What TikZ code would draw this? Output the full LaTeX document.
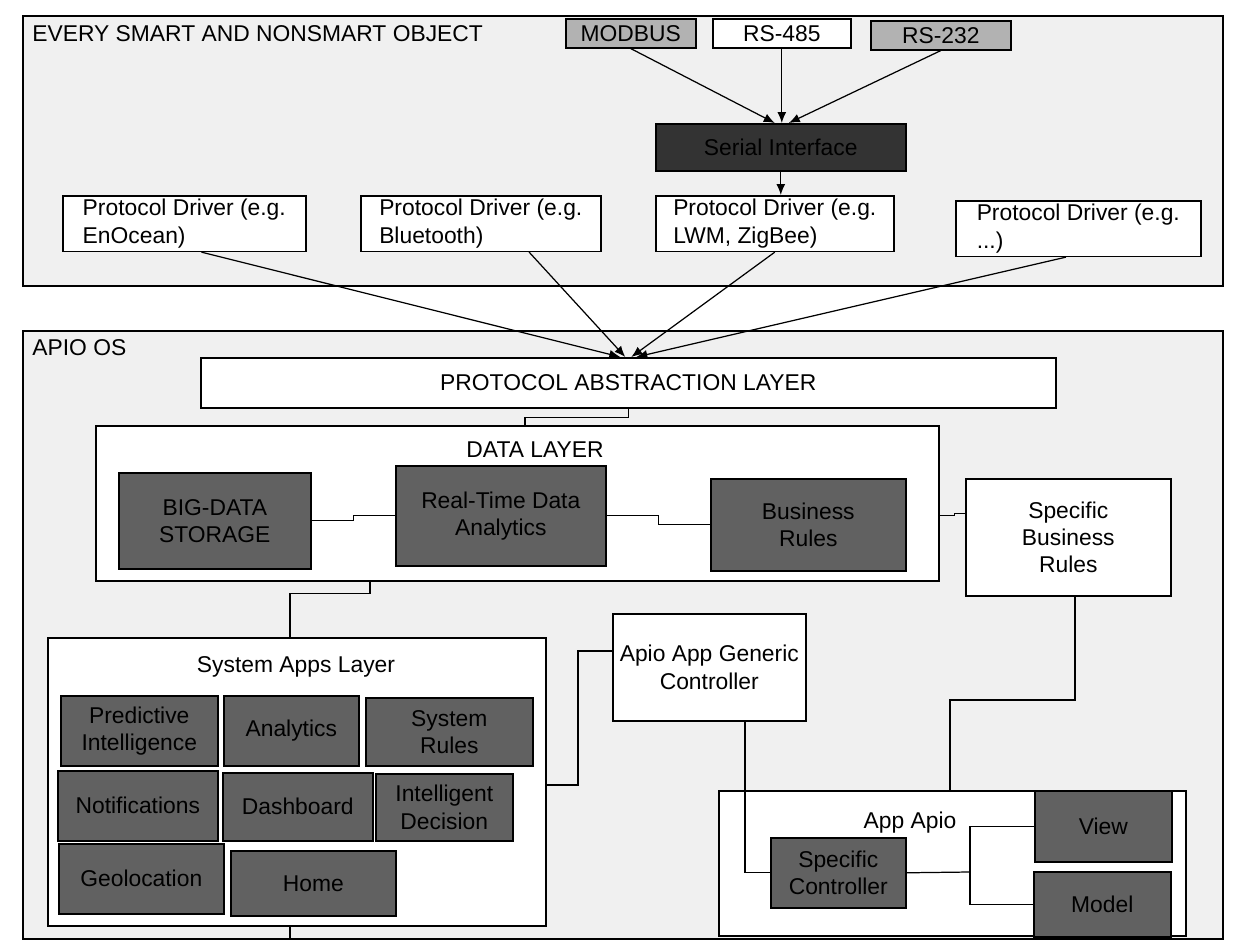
\documentclass[tikz,border=0pt]{standalone}
\usepackage{fontspec}
\setmainfont{Liberation Sans}
\usetikzlibrary{arrows.meta, calc}
\newcommand{\upx}{0.02cm}
\tikzset{
  outer/.style={draw, line width=0.9pt, fill=black!6, anchor=north west, inner sep=0pt},
  wbox/.style={draw, line width=0.9pt, fill=white, align=center, anchor=north west, inner sep=2pt},
  gbox/.style={wbox, fill=black!30},
  dbox/.style={wbox, fill=black!62},
  pbox/.style={wbox, align=left},
  ttl/.style={inner sep=0pt},
  link/.style={line width=0.7pt},
  arr/.style={line width=0.7pt, -{Latex[length=2.2mm, width=1.8mm]}},
}

\begin{document}
\begin{tikzpicture}[x=0.02cm, y=-0.02cm, font=\fontsize{13}{15.5}\selectfont]
  \useasboundingbox (0,0) rectangle (1235,943);

  % objects
  \node[outer, minimum width=1200*\upx, minimum height=270*\upx] (objs) at (22,15) {};
  \node[ttl, anchor=west] (objt) at (32,34) {EVERY SMART AND NONSMART OBJECT};
  \node[gbox, minimum width=130*\upx, minimum height=29*\upx] (modbus) at (565,18) {MODBUS};
  \node[wbox, minimum width=138*\upx, minimum height=29*\upx] (rs485) at (712,18) {RS-485};
  \node[gbox, minimum width=140*\upx, minimum height=29*\upx] (rs232) at (870,20) {RS-232};
  \node[dbox, fill=black!80, minimum width=250*\upx, minimum height=47*\upx] (ser) at (655,123) {Serial Interface};
  \node[pbox, minimum width=243*\upx, minimum height=55*\upx] (drv1) at (62,195) {Protocol Driver (e.g.\\EnOcean)};
  \node[pbox, minimum width=240*\upx, minimum height=55*\upx] (drv2) at (360,195) {Protocol Driver (e.g.\\Bluetooth)};
  \node[pbox, minimum width=238*\upx, minimum height=55*\upx] (drv3) at (655,195) {Protocol Driver (e.g.\\LWM, ZigBee)};
  \node[pbox, minimum width=245*\upx, minimum height=55*\upx] (drv4) at (955,200) {Protocol Driver (e.g.\\...)};

  \draw[arr] (modbus.south) -- ($(ser.north)+(-6,0)$);
  \draw[arr] (rs485.south) -- (rs485.south |- ser.north);
  \draw[arr] (rs232.south) -- ($(ser.north)+(8,0)$);
  \draw[arr] (ser.south) -- (ser.south |- drv3.north);

  % apio os
  \node[outer, minimum width=1200*\upx, minimum height=608*\upx] (apio) at (22,330) {};
  \node[ttl, anchor=west] (apiot) at (32,348) {APIO OS};
  \node[wbox, minimum width=855*\upx, minimum height=50*\upx] (pal) at (200,357) {PROTOCOL ABSTRACTION LAYER};

  \draw[arr] ($(drv1.south west)!.57!(drv1.south east)$) -- ($(pal.north)+(-8,0)$);
  \draw[arr] ($(drv2.south west)!.7!(drv2.south east)$) -- ($(pal.north)+(-3,0)$);
  \draw[arr] ($(drv3.south west)!.5!(drv3.south east)$) -- ($(pal.north)+(3,0)$);
  \draw[arr] ($(drv4.south west)!.45!(drv4.south east)$) -- ($(pal.north)+(8,0)$);

  \node[wbox, minimum width=843*\upx, minimum height=155*\upx] (data) at (95,425) {};
  \node[ttl] (datat) at (535,450) {DATA LAYER};
  \node[dbox, minimum width=192*\upx, minimum height=96*\upx] (big) at (118,472) {BIG-DATA\\STORAGE};
  \node[dbox, minimum width=210*\upx, minimum height=100*\upx] (rta) at (395,465) {Real-Time Data\\Analytics};
  \node[dbox, minimum width=195*\upx, minimum height=92*\upx] (bus) at (710,478) {Business\\Rules};
  \node[wbox, minimum width=205*\upx, minimum height=117*\upx] (sbr) at (965,478) {Specific\\Business\\Rules};

  \node[wbox, minimum width=498*\upx, minimum height=288*\upx] (sys) at (47,637) {};
  \node[ttl] (syst) at (296,667) {System Apps Layer};
  \node[dbox, minimum width=157*\upx, minimum height=70*\upx] (pred) at (60,695) {Predictive\\Intelligence};
  \node[dbox, minimum width=135*\upx, minimum height=70*\upx] (ana) at (223,695) {Analytics};
  \node[dbox, minimum width=167*\upx, minimum height=68*\upx] (srul) at (365,697) {System\\Rules};
  \node[dbox, minimum width=160*\upx, minimum height=70*\upx] (noti) at (57,770) {Notifications};
  \node[dbox, minimum width=150*\upx, minimum height=68*\upx] (dash) at (222,772) {Dashboard};
  \node[dbox, minimum width=137*\upx, minimum height=67*\upx] (intd) at (375,773) {Intelligent\\Decision};
  \node[dbox, minimum width=165*\upx, minimum height=70*\upx] (geo) at (58,843) {Geolocation};
  \node[dbox, minimum width=165*\upx, minimum height=65*\upx] (home) at (230,850) {Home};

  \node[wbox, minimum width=193*\upx, minimum height=107*\upx] (gen) at (612,613) {Apio App Generic\\Controller};

  \node[wbox, minimum width=467*\upx, minimum height=145*\upx] (app) at (718,790) {};
  \node[ttl] (appt) at (910,823) {App Apio};
  \node[dbox, minimum width=135*\upx, minimum height=70*\upx] (spc) at (770,837) {Specific\\Controller};
  \node[dbox, minimum width=137*\upx, minimum height=71*\upx] (view) at (1034,790) {View};
  \node[dbox, minimum width=137*\upx, minimum height=65*\upx] (model) at (1033,871) {Model};
  \coordinate (fork) at (970,872);

  \draw[link] (pal.south) -- ++(0,9) -| (data.north -| 525,0);
  \draw[link] (big.east) -- ++(42,0) |- (rta.west);
  \draw[link] (rta.east) -- ++(52,0) |- (bus.west);
  \draw[link] (data.east |- rta.east) -- ++(15,0) |- ($(sbr.west)+(0,-24)$);
  \draw[link] (data.south -| 370,0) -- ++(0,12) -| (sys.north -| 290,0);
  \draw[link] (sys.south -| 290,0) -- (apio.south -| 290,0);
  \draw[link] ($(gen.north west)!.35!(gen.south west)$) -- ++(-34,0) |- (sys.east |- 0,785);
  \draw[link] (gen.south -| 745,0) |- (spc.west);
  \draw[link] (spc.east) -- (fork);
  \draw[link] (view.west) -| (fork) |- (model.west);
  \draw[link] (sbr.south -| 1075,0) -- (1075,700) -| (app.north -| 950,0);
\end{tikzpicture}
\end{document}
